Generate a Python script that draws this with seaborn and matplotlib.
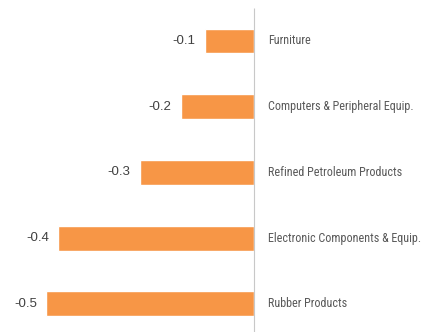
import matplotlib
matplotlib.use("Agg")
import matplotlib.pyplot as plt
import seaborn as sns
import pandas as pd
from matplotlib import font_manager

categories = ["Furniture", "Computers & Peripheral Equip.", "Refined Petroleum Products",
              "Electronic Components & Equip.", "Rubber Products"]
values = [-0.11, -0.164, -0.256, -0.44, -0.467]

sns.set_style("white")
ttf = font_manager.fontManager.ttflist
names = {f.name for f in ttf}

# pick a condensed face if one is installed
label_font = dict(family=["Liberation Sans", "DejaVu Sans"])
for cand in ["Roboto Condensed", "Liberation Sans Narrow", "Arial Narrow", "Open Sans Condensed"]:
    if cand in names:
        label_font = dict(family=[cand, "DejaVu Sans"])
        break
else:
    if any(f.name == "DejaVu Sans" and f.stretch in ("condensed", 600, "semi-condensed") for f in ttf):
        label_font = dict(family=["DejaVu Sans"], stretch="condensed")

plt.rcParams["font.family"] = ["Liberation Sans", "DejaVu Sans"]

df = pd.DataFrame({"cat": categories, "val": values})

fig = plt.figure(figsize=(4.35, 3.32), dpi=100)
ax = fig.add_axes([0, 0, 1, 1])
sns.barplot(data=df, y="cat", x="val", orient="h", color="#F79646", saturation=1,
            width=0.38, ax=ax)
ax.set_xlim(-0.570, 0.408)
ax.set_ylim(4.43, -0.624)
ax.vlines(0, -0.5, 4.5, color="#C8C8C8", lw=0.8)
for s in ax.spines.values():
    s.set_visible(False)
ax.set_xticks([]); ax.set_yticks([])
ax.set_xlabel(""); ax.set_ylabel("")

renderer = fig.canvas.get_renderer()
labels = []
for i, (c, v) in enumerate(zip(categories, values)):
    ax.annotate(f"{v:.1f}", (v, i), xytext=(-6.5, 0), textcoords="offset points",
                ha="right", va="center", fontsize=9.5, color="#404040")
    t = ax.annotate(c, (0, i), xytext=(10.4, 0), textcoords="offset points",
                    ha="left", va="center", fontsize=9, color="#595959", **label_font)
    labels.append(t)

# fit the label size so the longest label spans about 146 px like the reference
w = labels[1].get_window_extent(renderer).width
fs = 9 * 146.0 / w
fs = min(fs, 9.5)
for t in labels:
    t.set_fontsize(fs)

fig.savefig("out.png", dpi=100)
